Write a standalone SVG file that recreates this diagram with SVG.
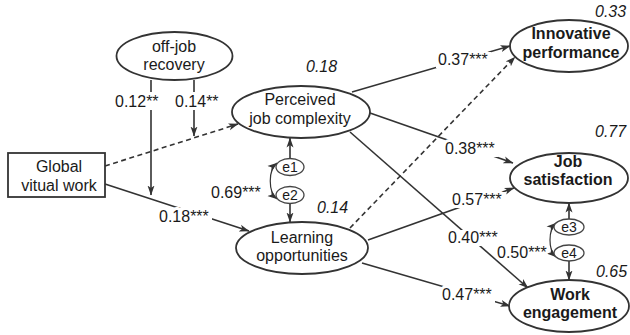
<svg xmlns="http://www.w3.org/2000/svg" width="630" height="335" viewBox="0 0 630 335">
<defs>
<marker id="arr" markerWidth="10" markerHeight="8" refX="9.5" refY="4" orient="auto" markerUnits="userSpaceOnUse">
<path d="M0,0.5 L10,4 L0,7.5 L2.5,4 z" fill="#333"/>
</marker>
<marker id="arrs" markerWidth="10" markerHeight="8" refX="9.5" refY="4" orient="auto-start-reverse" markerUnits="userSpaceOnUse">
<path d="M0,0.5 L10,4 L0,7.5 L2.5,4 z" fill="#333"/>
</marker>
<style>
.n{fill:#fff;stroke:#333;stroke-width:1.8}
.e{fill:#fff;stroke:#444;stroke-width:1.3}
.c{fill:none;stroke:#333;stroke-width:1.6}
.d{stroke-dasharray:5,3.5}
.t{font-family:"Liberation Sans",Arial,sans-serif;font-size:16px;fill:#1a1a1a;text-anchor:middle}
.b{font-weight:bold}
.s{font-size:14px}
.bg{fill:#fff}
.l{font-family:"Liberation Sans",Arial,sans-serif;font-size:16px;fill:#1a1a1a;stroke:#fff;stroke-width:6;stroke-linejoin:round;paint-order:stroke}
.r{font-family:"Liberation Sans",Arial,sans-serif;font-size:16px;font-style:italic;fill:#1a1a1a}
</style>
</defs>
<rect width="630" height="335" fill="#fff"/>
<g id="connectors">
<path class="c" d="M151,80 V195" marker-end="url(#arr)"/>
<path class="c" d="M194,80 V136" marker-end="url(#arr)"/>
<path class="c d" d="M105,166 L238,124" marker-end="url(#arr)"/>
<path class="c" d="M105,184 L249,231" marker-end="url(#arr)"/>
<path class="c" d="M352,92 L510,46" marker-end="url(#arr)"/>
<path class="c" d="M370,113 L513,163" marker-end="url(#arr)"/>
<path class="c" d="M350,132 L528,288" marker-end="url(#arr)"/>
<path class="c d" d="M350,228 L515,57" marker-end="url(#arr)"/>
<path class="c" d="M368,240 L514,188" marker-end="url(#arr)"/>
<path class="c" d="M362,263 L510,306" marker-end="url(#arr)"/>
<path class="c" d="M290,158.5 V138" marker-end="url(#arr)"/>
<path class="c" d="M290,203.5 V222" marker-end="url(#arr)"/>
<path class="c" d="M569,219 V203" marker-end="url(#arr)"/>
<path class="c" d="M569,261 V280" marker-end="url(#arr)"/>
<path class="c" d="M277,163 C268,170 268,192 277,199" marker-start="url(#arrs)" marker-end="url(#arr)" style="stroke-width:1.2"/>
<path class="c" d="M556,223 C548,230 548,250 556,257" marker-start="url(#arrs)" marker-end="url(#arr)" style="stroke-width:1.2"/>
</g>
<g id="labels">
<rect class="bg" x="113" y="92" width="47" height="18"/>
<rect class="bg" x="173" y="92" width="47" height="18"/>
<rect class="bg" x="157" y="208" width="55" height="17"/>
<rect class="bg" x="436" y="52" width="55" height="16"/>
<rect class="bg" x="443" y="141" width="55" height="16"/>
<rect class="bg" x="450" y="192" width="55" height="16"/>
<rect class="bg" x="446" y="230" width="55" height="16"/>
<rect class="bg" x="440" y="287" width="55" height="16"/>
<text class="l" x="115" y="107">0.12**</text>
<text class="l" x="175" y="107">0.14**</text>
<text class="l" x="159" y="222">0.18***</text>
<text class="l" x="211" y="198">0.69***</text>
<text class="l" x="438" y="65">0.37***</text>
<text class="l" x="445" y="154">0.38***</text>
<text class="l" x="452" y="205">0.57***</text>
<text class="l" x="448" y="243">0.40***</text>
<text class="l" x="497" y="258">0.50***</text>
<text class="l" x="442" y="300">0.47***</text>
<text class="r" x="306" y="72">0.18</text>
<text class="r" x="317" y="213">0.14</text>
<text class="r" x="595" y="17">0.33</text>
<text class="r" x="595" y="137">0.77</text>
<text class="r" x="596" y="277">0.65</text>
</g>
<g id="off-job-recovery">
<ellipse class="n" cx="174.5" cy="56" rx="58" ry="24"/>
<text class="t" x="174" y="52">off-job</text>
<text class="t" x="174" y="70">recovery</text>
</g>
<g id="global-virtual-work">
<rect class="n" x="8" y="153" width="97" height="44"/>
<text class="t" x="59" y="172">Global</text>
<text class="t" x="59" y="191">vitual work</text>
</g>
<g id="perceived-job-complexity">
<ellipse class="n" cx="301" cy="112" rx="69" ry="26"/>
<text class="t" x="300" y="105">Perceived</text>
<text class="t" x="300" y="124">job complexity</text>
</g>
<g id="learning-opportunities">
<ellipse class="n" cx="302" cy="248" rx="66" ry="26"/>
<text class="t" x="302" y="243">Learning</text>
<text class="t" x="302" y="261">opportunities</text>
</g>
<g id="e1">
<ellipse class="e" cx="290" cy="167" rx="14" ry="8.5"/>
<text class="t s" x="290" y="172">e1</text>
</g>
<g id="e2">
<ellipse class="e" cx="290" cy="195" rx="14" ry="8.5"/>
<text class="t s" x="290" y="200">e2</text>
</g>
<g id="innovative-performance">
<ellipse class="n" cx="569" cy="46" rx="59" ry="26"/>
<text class="t b" x="571" y="39">Innovative</text>
<text class="t b" x="571" y="58">performance</text>
</g>
<g id="job-satisfaction">
<ellipse class="n" cx="569" cy="178" rx="59" ry="25"/>
<text class="t b" x="568" y="167">Job</text>
<text class="t b" x="568" y="185">satisfaction</text>
</g>
<g id="e3">
<ellipse class="e" cx="569" cy="227" rx="15" ry="8"/>
<text class="t s" x="569" y="232">e3</text>
</g>
<g id="e4">
<ellipse class="e" cx="569" cy="253" rx="15" ry="8"/>
<text class="t s" x="569" y="258">e4</text>
</g>
<g id="work-engagement">
<ellipse class="n" cx="569" cy="306" rx="60" ry="26"/>
<text class="t b" x="570" y="300">Work</text>
<text class="t b" x="570" y="318">engagement</text>
</g>
</svg>
